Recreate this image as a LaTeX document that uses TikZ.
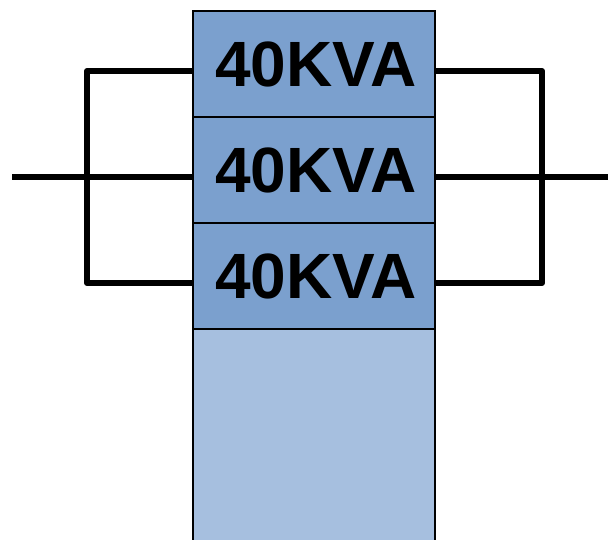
\documentclass[tikz,border=0pt]{standalone}
\usepackage{fontspec}
\setmainfont{Liberation Sans}
\definecolor{boxblue}{HTML}{7BA0CE}
\definecolor{lightblue}{HTML}{A6BFDF}
\begin{document}
\begin{tikzpicture}[x=1pt,y=-1pt,
  kva/.style={draw=black,line width=1.6pt,fill=boxblue,minimum width=242pt,minimum height=106pt,inner sep=0pt,outer sep=0pt,anchor=north west,font=\fontsize{64}{64}\selectfont\bfseries},
  wire/.style={line width=6pt,line cap=butt,line join=round}]
\useasboundingbox (0,0) rectangle (608,540);
\clip (0,0) rectangle (608,540);
\node[kva,fill=lightblue] (base) at (193,329) [minimum height=220pt] {};
\node[kva] (a) at (193,11) {\hspace*{4pt}40KVA};
\node[kva] (b) at (193,117) {\hspace*{4pt}40KVA};
\node[kva] (c) at (193,223) {\hspace*{4pt}40KVA};
\coordinate (lin) at (12,177);
\coordinate (rout) at (608,177);
\coordinate (lt) at (87,71);
\coordinate (lb) at (87,283);
\coordinate (rt) at (542,71);
\coordinate (rb) at (542,283);
\draw[wire] (a.west |- lt) -- (lt) -- (lb) -- (c.west |- lb);
\draw[wire] (lin) -- (b.west |- lin);
\draw[wire] (a.east |- rt) -- (rt) -- (rb) -- (c.east |- rb);
\draw[wire] (b.east |- rout) -- (rout);
\end{tikzpicture}
\end{document}
